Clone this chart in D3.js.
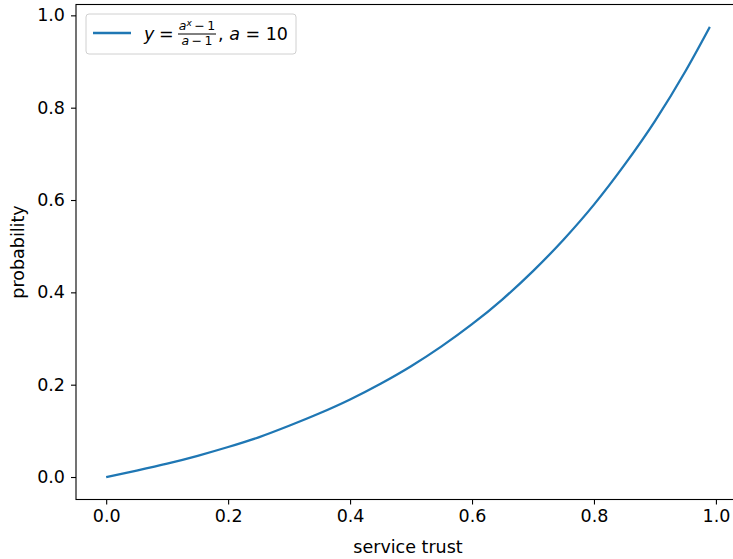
<!DOCTYPE html>
<html>
<head>
<meta charset="utf-8">
<script src="https://cdn.jsdelivr.net/npm/d3@7"></script>
<style>
  body { margin: 0; background: #fff; }
  text { font-family: "DejaVu Sans", sans-serif; fill: #000; }
</style>
</head>
<body>
<div id="container"></div>
<script>
// values
var trust = [0, 0.05, 0.1, 0.15, 0.2, 0.25, 0.3, 0.35, 0.4, 0.45, 0.5,
             0.55, 0.6, 0.65, 0.7, 0.75, 0.8, 0.85, 0.9, 0.95, 0.99];
var prob = [0, 0.014, 0.029, 0.046, 0.065, 0.086, 0.111, 0.138, 0.168, 0.202, 0.240,
            0.283, 0.331, 0.385, 0.446, 0.514, 0.590, 0.676, 0.771, 0.879, 0.975];
var xTicks = [0, 0.2, 0.4, 0.6, 0.8, 1.0];
var yTicks = [0, 0.2, 0.4, 0.6, 0.8, 1.0];

var W = 733, H = 559;
var fs = 17.5;
var svg = d3.select("#container").append("svg")
  .attr("width", W).attr("height", H);

var x = d3.scaleLinear().domain([-0.0495, 1.0395]).range([76, 740]);
var y = d3.scaleLinear().domain([-0.0487, 1.0235]).range([499.5, 4.5]);

// frame
svg.append("rect")
  .attr("x", x.range()[0]).attr("y", y.range()[1])
  .attr("width", x.range()[1] - x.range()[0])
  .attr("height", y.range()[0] - y.range()[1])
  .attr("fill", "none").attr("stroke", "#000").attr("stroke-width", 1.1);

var xAxis = svg.append("g")
  .attr("transform", "translate(0," + y.range()[0] + ")")
  .call(d3.axisBottom(x).tickValues(xTicks).tickFormat(d3.format(".1f")).tickSizeOuter(0).tickSize(5).tickPadding(5));
var yAxis = svg.append("g")
  .attr("transform", "translate(" + x.range()[0] + ",0)")
  .call(d3.axisLeft(y).tickValues(yTicks).tickFormat(d3.format(".1f")).tickSizeOuter(0).tickSize(5).tickPadding(6));
[xAxis, yAxis].forEach(function(g){
  g.select(".domain").remove();
  g.selectAll(".tick line").attr("stroke", "#000").attr("stroke-width", 1.1);
  g.selectAll(".tick text").attr("font-family", "DejaVu Sans").attr("font-size", fs).attr("fill", "#000");
});

svg.append("text").text("service trust")
  .attr("x", 408).attr("y", 553).attr("text-anchor", "middle").attr("font-size", fs);
svg.append("text").text("probability")
  .attr("transform", "translate(24,252) rotate(-90)")
  .attr("text-anchor", "middle").attr("font-size", fs);

var pts = trust.map(function(t, i){ return [t, prob[i]]; });
var line = d3.line().x(function(d){ return x(d[0]); }).y(function(d){ return y(d[1]); })
  .curve(d3.curveMonotoneX);
svg.append("path").datum(pts)
  .attr("d", line)
  .attr("fill", "none").attr("stroke", "#1f77b4").attr("stroke-width", 2.3);

// legend
var lg = svg.append("g");
lg.append("rect").attr("x", 86).attr("y", 14).attr("width", 210).attr("height", 40)
  .attr("rx", 3).attr("fill", "#fff").attr("fill-opacity", 0.8)
  .attr("stroke", "#d0d0d0").attr("stroke-width", 1);
lg.append("line").attr("x1", 93).attr("x2", 131).attr("y1", 33).attr("y2", 33)
  .attr("stroke", "#1f77b4").attr("stroke-width", 2.3);
lg.append("text").attr("x", 144).attr("y", 40).attr("font-size", fs)
  .attr("font-style", "italic").text("y");
lg.append("text").attr("x", 159).attr("y", 40).attr("font-size", fs).text("=");
var num = lg.append("text").attr("x", 197).attr("y", 30).attr("font-size", 12.5).attr("text-anchor", "middle");
num.append("tspan").attr("font-style", "italic").text("a");
num.append("tspan").attr("font-style", "italic").attr("font-size", 9).attr("dy", -4).text("x");
num.append("tspan").attr("dy", 4).text("\u2009\u2212\u20091");
var den = lg.append("text").attr("x", 197).attr("y", 45).attr("font-size", 12.5).attr("text-anchor", "middle");
den.append("tspan").attr("font-style", "italic").text("a");
den.append("tspan").text("\u2009\u2212\u20091");
lg.append("line").attr("x1", 178).attr("x2", 216).attr("y1", 34).attr("y2", 34)
  .attr("stroke", "#000").attr("stroke-width", 1);
var rest = lg.append("text").attr("x", 218).attr("y", 40).attr("font-size", fs);
rest.append("tspan").text(", ");
rest.append("tspan").attr("font-style", "italic").text("a");
rest.append("tspan").text(" = 10");
</script>
</body>
</html>
